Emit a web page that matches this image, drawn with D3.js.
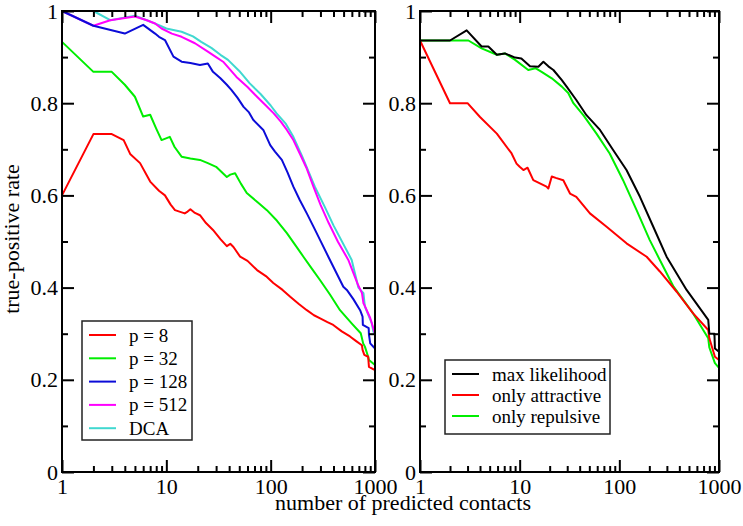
<!DOCTYPE html>
<html>
<head>
<meta charset="utf-8">
<script src="https://cdn.jsdelivr.net/npm/d3@7"></script>
</head>
<body style="margin:0; background:#fff">
<svg id="chart" width="743" height="526"></svg>
<script>
// true-positive rate vs. number of predicted contacts, two panels

// left panel: number of patterns p, plus plain DCA
const p8 = [[1, .60], [2, .733], [3, .733], [3.9, .72], [4.5, .69], [5.6, .67], [7, .63], [8.5, .61], [9.7, .60],
  [11, .58], [12.1, .568], [15, .561], [16, .565], [17, .57], [18.8, .562], [21, .557], [24, .54], [28, .525],
  [33, .505], [38, .49], [41, .495], [44, .488], [51, .467], [60, .458], [74, .438], [90, .425], [106, .41],
  [130, .395], [154, .38], [185, .365], [222, .351], [260, .34], [298, .333], [350, .325], [398, .319],
  [480, .305], [576, .294], [660, .284], [749, .275], [760, .265], [790, .254], [860, .25], [875, .228],
  [930, .225], [1000, .221]];
const p32 = [[1, .933], [2, .868], [3, .868], [4, .84], [5, .814], [6, .771], [7, .775], [8, .745], [9, .72],
  [10.8, .727], [12, .705], [14, .684], [17, .68], [21, .677], [25, .67], [30, .662], [38, .64], [41, .645],
  [45.6, .648], [52, .625], [59, .605], [75, .585], [92, .568], [115, .545], [143, .518], [175, .49],
  [206, .467], [250, .44], [298, .416], [370, .385], [462, .351], [600, .322], [730, .301], [745, .293],
  [770, .279], [800, .272], [860, .25], [875, .243], [1000, .232]];
const p128 = [[1, 1], [2, .968], [4, .951], [6, .97], [7.8, .951], [8.5, .944], [9.7, .937], [11.7, .901],
  [14, .89], [17, .887], [21, .883], [25, .886], [28, .868], [33, .854], [38, .84], [42, .829], [48, .812],
  [55, .792], [62, .78], [68, .764], [85, .742], [99, .709], [110, .695], [128, .677], [145, .65], [165, .619],
  [190, .59], [222, .561], [260, .53], [298, .503], [357, .467], [420, .435], [497, .402], [537, .395],
  [620, .375], [720, .351], [760, .337], [765, .319], [870, .312], [875, .298], [900, .279], [1000, .268]];
const p512 = [[1, 1], [2, .968], [2.9, .98], [5, .988], [6.5, .98], [7.8, .973], [9, .962], [11.3, .951],
  [14, .944], [18.8, .93], [25, .912], [30, .9], [35, .89], [47, .857], [60, .835], [74, .814], [90, .795],
  [107, .778], [125, .76], [143, .742], [165, .72], [190, .691], [220, .66], [257, .619], [300, .58],
  [360, .54], [440, .5], [555, .46], [690, .405], [750, .388], [775, .366], [800, .36], [900, .334],
  [1000, .30]];
const dca = [[1, 1], [2, 1], [2.9, .98], [5, .99], [6.5, .98], [8.4, .97], [10, .962], [14, .955], [18, .945],
  [21.6, .933], [27, .92], [33, .905], [39, .894], [50, .87], [63, .843], [80, .82], [100, .795], [114, .778],
  [140, .755], [165, .727], [200, .685], [265, .619], [330, .575], [400, .535], [598, .46], [693, .40],
  [775, .388], [800, .359], [930, .323], [965, .304], [1000, .30]];

// right panel: coupling sign restrictions
const maxLik = [[1, .936], [2, .936], [2.94, .958], [4.15, .923], [4.85, .923], [5.9, .905], [7.1, .908],
  [9, .899], [10.4, .897], [12.7, .88], [15.4, .879], [17.3, .89], [19.4, .88], [21.8, .872], [26.5, .85],
  [29.6, .836], [37, .807], [46.8, .774], [64, .742], [87, .698], [118, .655], [161, .597], [219, .532],
  [298, .467], [473, .395], [780, .33], [800, .30], [900, .30], [910, .268], [1000, .261]];
const onlyAttr = [[1, .936], [2, .80], [3, .80], [4, .77], [5.9, .734], [8.3, .691], [9.3, .669], [10, .662],
  [10.9, .655], [12, .66], [13.7, .633], [18.6, .619], [19.4, .615], [21, .641], [23, .638], [27.4, .633],
  [32, .604], [37, .597], [50.7, .561], [74.5, .532], [118, .496], [188, .467], [255, .435], [376, .391],
  [550, .344], [780, .308], [800, .29], [910, .25], [1000, .243]];
const onlyRep = [[1, .936], [3.06, .936], [4.15, .919], [5.9, .905], [7.1, .908], [9, .894], [12.2, .872],
  [14.4, .876], [16.6, .868], [21, .854], [26.5, .836], [30.7, .822], [34.6, .80], [43.5, .774], [59, .734],
  [80, .691], [109, .633], [149, .568], [202, .503], [255, .46], [350, .402], [550, .344], [780, .29],
  [800, .27], [910, .236], [1000, .226]];

const xMajor = [1, 10, 100, 1000];
const xMinor = [2, 3, 4, 5, 6, 7, 8, 9, 20, 30, 40, 50, 60, 70, 80, 90, 200, 300, 400, 500, 600, 700, 800, 900];
const yMajor = [0, 0.2, 0.4, 0.6, 0.8, 1];
const yMinor = [0.1, 0.3, 0.5, 0.7, 0.9];

const serif = 'Liberation Serif';

const panels = [
  {
    x0: 62, x1: 375,
    series: [
      { label: 'p = 8', color: '#ff0000', data: p8 },
      { label: 'p = 32', color: '#00ee00', data: p32 },
      { label: 'p = 128', color: '#0c0cd8', data: p128 },
      { label: 'p = 512', color: '#ff00ff', data: p512 },
      { label: 'DCA', color: '#40d8d0', data: dca },
    ],
    legend: { x: 82, y: 321, w: 110, h: 119, rowY: 14, rowH: 23.3 },
  },
  {
    x0: 420, x1: 719,
    series: [
      { label: 'max likelihood', color: '#000000', data: maxLik },
      { label: 'only attractive', color: '#ff0000', data: onlyAttr },
      { label: 'only repulsive', color: '#00ee00', data: onlyRep },
    ],
    legend: { x: 445, y: 360, w: 165, h: 74, rowY: 14, rowH: 21 },
  },
];

const svg = d3.select('#chart');
const yTop = 11;
const yBottom = 472;

const y = d3.scaleLinear().domain([0, 1]).range([yBottom, yTop]);

function serifText(sel, size) {
  return sel
    .attr('font-family', serif)
    .attr('font-size', size)
    .style('font-family', `'${serif}'`)
    .style('font-size', `${size}px`);
}

panels.forEach(p => {
  const x = d3.scaleLog().domain([1, 1000]).range([p.x0, p.x1]);
  const g = svg.append('g');

  const line = d3.line()
    .x(d => x(d[0]))
    .y(d => y(d[1]));

  // series, drawn in reverse so the first one sits on top
  g.append('g')
    .selectAll('path').data(p.series.slice().reverse())
    .enter().append('path')
    .attr('d', d => line(d.data))
    .attr('fill', 'none')
    .attr('stroke', d => d.color)
    .attr('stroke-width', 2)
    .attr('stroke-linejoin', 'round');

  // axes with inward ticks
  const styleAxis = sel => {
    sel.select('.domain').remove();
    sel.call(serifText, 22);
    sel.selectAll('line').attr('stroke', '#000').attr('stroke-width', 2);
    sel.selectAll('text').attr('fill', '#000').call(serifText, 22);
  };

  g.append('g').attr('transform', `translate(0,${yBottom})`)
    .call(d3.axisBottom(x).tickValues(xMajor).tickSize(-12).tickPadding(6).tickFormat(d3.format('d')))
    .call(styleAxis);
  g.append('g').attr('transform', `translate(0,${yBottom})`)
    .call(d3.axisBottom(x).tickValues(xMinor).tickSize(-6).tickFormat(''))
    .call(styleAxis);
  g.append('g').attr('transform', `translate(0,${yTop})`)
    .call(d3.axisTop(x).tickValues(xMajor).tickSize(-12).tickFormat(''))
    .call(styleAxis);
  g.append('g').attr('transform', `translate(0,${yTop})`)
    .call(d3.axisTop(x).tickValues(xMinor).tickSize(-6).tickFormat(''))
    .call(styleAxis);

  g.append('g').attr('transform', `translate(${p.x0},0)`)
    .call(d3.axisLeft(y).tickValues(yMajor).tickSize(-12).tickPadding(4).tickFormat(d3.format('~g')))
    .call(styleAxis);
  g.append('g').attr('transform', `translate(${p.x0},0)`)
    .call(d3.axisLeft(y).tickValues(yMinor).tickSize(-6).tickFormat(''))
    .call(styleAxis);
  g.append('g').attr('transform', `translate(${p.x1},0)`)
    .call(d3.axisRight(y).tickValues(yMajor).tickSize(-12).tickFormat(''))
    .call(styleAxis);
  g.append('g').attr('transform', `translate(${p.x1},0)`)
    .call(d3.axisRight(y).tickValues(yMinor).tickSize(-6).tickFormat(''))
    .call(styleAxis);

  // frame
  g.append('rect')
    .attr('x', p.x0).attr('y', yTop)
    .attr('width', p.x1 - p.x0).attr('height', yBottom - yTop)
    .attr('fill', 'none').attr('stroke', '#000').attr('stroke-width', 2);

  // legend
  const L = p.legend;
  const lg = g.append('g').attr('transform', `translate(${L.x},${L.y})`);
  lg.append('rect')
    .attr('width', L.w).attr('height', L.h)
    .attr('fill', '#fff').attr('stroke', '#222').attr('stroke-width', 1.5);
  const rows = lg.selectAll('g.row').data(p.series)
    .enter().append('g')
    .attr('class', 'row')
    .attr('transform', (d, i) => `translate(0,${L.rowY + i * L.rowH})`);
  rows.append('line')
    .attr('x1', 7).attr('x2', 34)
    .attr('stroke', d => d.color).attr('stroke-width', 2);
  rows.append('text')
    .attr('x', 47).attr('y', 6.5)
    .call(serifText, 19)
    .text(d => d.label);
});

// axis titles
svg.append('text')
  .attr('x', 403).attr('y', 510)
  .attr('text-anchor', 'middle')
  .call(serifText, 22)
  .text('number of predicted contacts');

svg.append('text')
  .attr('transform', 'translate(19,239) rotate(-90)')
  .attr('text-anchor', 'middle')
  .call(serifText, 22)
  .text('true-positive rate');
</script>
</body>
</html>
